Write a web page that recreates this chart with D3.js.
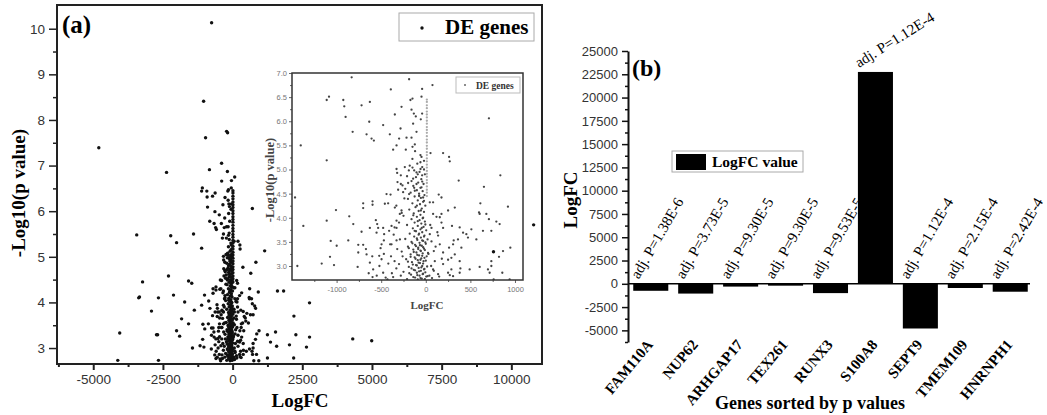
<!DOCTYPE html>
<html>
<head>
<meta charset="utf-8">
<script src="https://cdn.jsdelivr.net/npm/d3@7"></script>
<style>
  body { margin: 0; background: #fff; }
  svg text { font-family: "Liberation Serif", "Times New Roman", serif; }
  .tick text { font-family: "Liberation Sans", Arial, sans-serif; }
</style>
</head>
<body>
<svg id="chart" width="1047" height="415"></svg>
<script>
// ---- panel (a) data: [LogFC, -Log10(p value)] ----
const farLeftGenes = [
  [-753,10.13],[-1040,8.41],[-970,7.61],[-215,7.75],[-180,7.72],[-4800,7.39],[-395,7.05],[-2370,6.85],
  [-3440,5.48],[-2220,5.46],[-2010,5.31],[-3230,4.45],[-2300,4.58],[-1580,4.47],[-3340,4.12],[-3370,4.10],
  [-2660,4.10],[-2120,4.16],[-1720,4.01],[-2910,3.81],[-1830,3.64],[-1580,3.53],[-2010,3.38],[-1900,3.26],
  [-2730,3.29],[-2690,3.29],[-4050,3.33],[-4120,2.73],[-2660,2.73]
];
const farRightGenes = [
  [1150,5.13],[1250,3.29],[1540,3.35],[1360,3.13],[1580,3.04],[2040,3.07],[2190,2.78],[1250,2.78],
  [1610,4.25],[1830,4.25],[2200,3.70],[2270,3.29],[2760,3.99],[2760,3.24],[2650,3.02],[4310,3.20],
  [4990,3.16],[9360,5.11],[10800,5.70]
];
const spreadGenes = [
  [-831,6.91],[-187,6.87],[-41,6.67],[75,6.75],[-392,6.66],[-1111,6.44],[-1085,6.51],[-925,6.44],
  [-914,6.31],[-899,6.09],[-720,6.33],[-627,6.40],[-172,6.44],[-149,6.47],[-48,6.51],[-272,6.30],
  [-160,6.24],[-134,6.16],[-112,6.10],[-56,6.04],[-41,6.16],[-347,6.14],[-142,5.95],[-283,5.85],
  [-104,5.78],[-478,5.92],[-634,5.99],[-820,5.78],[-664,5.73],[-608,5.64],[-582,5.60],[-403,5.73],
  [-299,5.64],[-216,5.66],[-160,5.66],[-123,5.52],[-149,5.47],[-328,5.50],[-366,5.41],[-224,5.41],
  [-48,5.26],[53,5.34],[194,5.34],[261,5.26],[269,5.17],[-1402,5.50],[-1111,5.19],[708,6.06],
  [-328,5.01],[-321,4.93],[-280,4.88],[-235,5.05],[-190,4.98],[-149,5.04],[-104,4.94],[-59,5.01],
  [-41,4.88],[-142,4.81],[-198,4.72],[-261,4.67],[-104,4.70],[-48,4.63],[-317,4.74],[369,4.77],
  [836,4.88],[652,4.64],[-440,4.49],[-395,4.48],[-310,4.58],[-254,4.53],[-187,4.49],[-123,4.56],
  [-75,4.46],[-30,4.42],[145,4.48],[176,4.42],[45,4.32],[82,4.32],[-702,4.30],[-702,4.20],
  [-597,4.34],[-597,4.27],[-459,4.29],[-422,4.30],[-1007,4.16],[-1111,3.94],[-858,4.03],[-813,3.87],
  [604,4.08],[708,3.97],[791,3.92],[828,3.87],[921,4.23],[325,4.21],[250,4.15],[176,4.08],
  [82,4.08],[157,4.01],[-347,4.21],[-291,4.08],[-1466,4.42],[-1373,3.83],
  [-560,3.95],[-545,3.87],[-534,3.79],[-478,3.79],[-411,3.73],[-328,3.79],[-720,3.71],[-627,3.79],
  [-1066,3.52],[-999,3.42],[-869,3.53],[-757,3.44],[-702,3.44],[-671,3.35],[-664,3.24],[-757,3.28],
  [-1074,3.19],[-1029,3.02],[-1167,3.05],[-1440,3.00],[-764,2.98],[-590,2.93],[-496,3.14],[-507,3.37],
  [-384,3.45],[-470,3.53],[-328,3.53],[-597,2.77],[-478,2.86],[-366,2.77],[120,4.02],[176,3.90],
  [194,3.79],[294,3.83],[380,3.80],[418,3.69],[313,3.53],[361,3.55],[473,3.59],[567,3.55],
  [641,3.73],[612,4.30],[597,4.11],[735,3.73],[821,3.19],[866,3.31],[948,3.38],[735,3.00],
  [604,2.98],[697,2.93],[940,2.72],[761,2.72],[492,2.93],[388,2.95],[380,3.10],[287,3.17],
  [261,3.38],[194,3.28],[194,3.04],[250,2.86],[269,2.81],[306,2.79],[138,2.83],[82,2.93],
  [101,3.10],[90,3.31],[64,3.51],[45,3.66],[64,3.79],[138,3.63],[157,3.45],
  [-627,3.07],[-522,3.21],[-496,3.45],[-467,3.66],[-552,3.69],[-384,3.83],[-328,3.94],[-272,4.15],
  [455,3.66],[306,3.45],[399,3.38],[325,3.24],[250,3.13],[287,2.93],[380,2.86],[735,3.10],
  [716,2.86],[858,2.86],[679,4.08],[511,3.76]
];
const coreGenes = [
  [-120,5.38],[-60,5.30],[-150,5.22],[-20,5.18],[-95,5.12],[-180,5.08],[-40,5.05],[-130,4.98],
  [-70,4.95],[-10,4.90],[-210,4.86],[-110,4.84],[-50,4.80],[-160,4.76],[-85,4.73],[-25,4.70],
  [-140,4.66],[-60,4.62],[-230,4.60],[-100,4.57],[-35,4.55],[-170,4.52],[-75,4.50],[-15,4.47],
  [-125,4.44],[-55,4.41],[-200,4.39],[-90,4.36],[-30,4.33],[-150,4.30],[-65,4.28],[-5,4.25],
  [-115,4.22],[-45,4.19],[-185,4.17],[-80,4.14],[-20,4.12],[-135,4.09],[-60,4.06],[-250,4.04],
  [-100,4.02],[-35,3.99],[-160,3.97],[-70,3.95],[-10,3.92],[-125,3.90],[-50,3.88],[-210,3.85],
  [-90,3.83],[-25,3.81],[-145,3.78],[-60,3.76],[5,3.74],[-110,3.72],[-40,3.70],[-180,3.67],
  [-80,3.65],[-15,3.63],[-130,3.61],[-55,3.59],[-230,3.56],[-95,3.54],[-30,3.52],[-160,3.50],
  [-70,3.48],[0,3.46],[-120,3.44],[-45,3.42],[-200,3.40],[-85,3.38],[-20,3.36],[-140,3.34],
  [-60,3.32],[-270,3.30],[-105,3.28],[-35,3.26],[-170,3.24],[-75,3.22],[10,3.20],[-125,3.18],
  [-50,3.16],[-220,3.14],[-90,3.12],[-25,3.10],[-155,3.08],[-65,3.06],[-300,3.04],[-110,3.02],
  [-40,3.00],[-190,2.98],[-80,2.96],[-15,2.94],[-135,2.92],[-55,2.90],[-250,2.88],[-100,2.86],
  [-30,2.84],[-165,2.82],[-70,2.80],[5,2.78],[-120,2.76],[-45,2.74],[-210,2.73],[-90,2.72],
  [-330,2.95],[-280,2.80],[-350,3.10],[-260,3.20],[-380,2.85],[-420,3.05],[-320,3.35],[-290,3.55],
  [-360,3.65],[40,2.80],[60,3.00],[30,3.25],[70,2.75],[20,3.55],[50,3.85],[-300,3.90],
  [-270,4.10],[-240,4.40],[-280,4.70],[90,2.90],[110,3.40],[-450,2.76],[-520,3.00],[-470,3.25],
  [-550,2.80],[-400,3.45],[150,2.78],[180,3.15],[130,3.70],[-330,4.25],[-350,3.80],[-390,3.20],
  [-600,3.20],[-640,2.85],[-430,2.72],
  [-10,2.73],[-60,2.75],[-140,2.77],[20,2.79],[-95,2.81],[-35,2.83],[-185,2.85],[-5,2.87],
  [-75,2.89],[-120,2.91],[-20,2.93],[-160,2.95],[-50,2.97],[15,2.99],[-100,3.01],[-145,3.03],
  [-30,3.05],[-80,3.07],[-200,3.09],[0,3.11],[-60,3.13],[-115,3.15],[-15,3.17],[-170,3.19],
  [-40,3.21],[-95,3.23],[25,3.27],[-135,3.29],[-55,3.31],[-10,3.33],[-85,3.35],[-190,3.37],
  [-30,3.39],[-110,3.41],[-65,3.43],[-150,3.47],[-5,3.49],[-40,3.53],[-100,3.57],[-20,3.61],
  [-75,3.67],[-125,3.73],[-45,3.79],[-5,3.86],[-90,3.93],[-30,4.00],[-140,4.05],[-55,4.15],
  [-100,4.25],[-20,4.35],[-75,4.45],[-130,4.62],[-40,4.75],[-90,4.90],[-20,5.00],[-60,5.15]
];
// the dotted column of genes sitting right at LogFC ~ 0
const zeroColumnGenes = [
  [12,6.45],[12,6.40],[12,6.33],[12,6.27],[12,6.20],[12,6.14],[12,6.08],[12,6.01],[12,5.95],[12,5.88],
  [12,5.82],[12,5.76],[12,5.69],[12,5.62],[12,5.56],[12,5.49],[12,5.43],[12,5.36],[12,5.30],[12,5.23],
  [12,5.17],[12,5.10],[12,5.04],[12,4.97],[12,4.91],[12,4.85],[12,4.78],[12,4.72],[12,4.65],[12,4.58],
  [12,4.52],[12,4.45]
];

const volcanoXTicks = [-5000, -2500, 0, 2500, 5000, 7500, 10000];
const volcanoXMinor = [-6250, -3750, -1250, 1250, 3750, 6250, 8750];
const volcanoYTicks = [3, 4, 5, 6, 7, 8, 9, 10];
const volcanoYMinor = [3.5, 4.5, 5.5, 6.5, 7.5, 8.5, 9.5];
const insetXTicks = [-1000, -500, 0, 500, 1000];
const insetXMinor = [-1250, -750, -250, 250, 750];
const insetYTicks = [3.0, 3.5, 4.0, 4.5, 5.0, 5.5, 6.0, 6.5, 7.0];
const insetYMinor = [3.25, 3.75, 4.25, 4.75, 5.25, 5.75, 6.25, 6.75];

// ---- panel (b) data ----
const topGenes = ["FAM110A", "NUP62", "ARHGAP17", "TEX261", "RUNX3", "S100A8", "SEPT9", "TMEM109", "HNRNPH1"];
const topLogFC = [-750, -1050, -300, -200, -1000, 22750, -4800, -450, -850];
const topAdjP = ["1.38E-6", "3.73E-5", "9.30E-5", "9.30E-5", "9.53E-5", "1.12E-4", "1.12E-4", "2.15E-4", "2.42E-4"];
const barYTicks = [-5000, -2500, 0, 2500, 5000, 7500, 10000, 12500, 15000, 17500, 20000, 22500, 25000];
const barYMinor = [-6250, -3750, -1250, 1250, 3750, 6250, 8750, 11250, 13750, 16250, 18750, 21250, 23750];

const svg = d3.select("#chart");
const allGenes = farLeftGenes.concat(spreadGenes, coreGenes, zeroColumnGenes, farRightGenes);

// ================= panel (a): volcano plot =================
const xA = d3.scaleLinear().domain([-6300, 11100]).range([57, 542]);
const yA = d3.scaleLinear().domain([2.65, 10.52]).range([364, 5]);
const gA = svg.append("g");

gA.append("rect").attr("x", 57).attr("y", 5).attr("width", 485).attr("height", 359).attr("fill", "#fff");

function styleAxis(g, col, w) {
  g.select(".domain").remove();
  g.selectAll(".tick line").attr("stroke", col).attr("stroke-width", w);
}

gA.append("g").attr("transform", "translate(0,364)")
  .call(d3.axisBottom(xA).tickValues(volcanoXTicks).tickSize(6).tickPadding(4).tickFormat(d => String(d)))
  .call(g => styleAxis(g, "#222", 2))
  .call(g => g.selectAll("text").attr("font-size", 13.5).attr("fill", "#333"));
gA.append("g").attr("transform", "translate(0,364)")
  .call(d3.axisBottom(xA).tickValues(volcanoXMinor).tickSize(3).tickFormat(""))
  .call(g => styleAxis(g, "#222", 2));
gA.append("g").attr("transform", "translate(57,0)")
  .call(d3.axisLeft(yA).tickValues(volcanoYTicks).tickSize(8).tickPadding(4).tickFormat(d => String(d)))
  .call(g => styleAxis(g, "#222", 1.5))
  .call(g => g.selectAll("text").attr("font-size", 13.5).attr("fill", "#333"));
gA.append("g").attr("transform", "translate(57,0)")
  .call(d3.axisLeft(yA).tickValues(volcanoYMinor).tickSize(4).tickFormat(""))
  .call(g => styleAxis(g, "#222", 1.5));

// inset: zoom of the same genes
const xI = d3.scaleLinear().domain([-1500, 1090]).range([292, 523]);
const yI = d3.scaleLinear().domain([2.71, 7.0]).range([280, 73]);
const gI = gA.append("g");
gI.append("rect").attr("x", 292).attr("y", 73).attr("width", 231).attr("height", 207).attr("fill", "#fff");
svg.append("clipPath").attr("id", "insetClip")
  .append("rect").attr("x", 292).attr("y", 73).attr("width", 231).attr("height", 207);

const insetPts = allGenes.filter(d => d[0] >= -1500 && d[0] <= 1090 && d[1] <= 7.0);
gI.append("g").attr("clip-path", "url(#insetClip)")
  .selectAll("circle").data(insetPts).enter().append("circle")
  .attr("cx", d => xI(d[0])).attr("cy", d => yI(d[1])).attr("r", 1.15)
  .attr("fill", d => zeroColumnGenes.includes(d) ? "#aaa" : "#444");

gI.append("g").attr("transform", "translate(0,280)")
  .call(d3.axisBottom(xI).tickValues(insetXTicks).tickSize(3).tickPadding(4).tickFormat(d => String(d)))
  .call(g => styleAxis(g, "#666", 1))
  .call(g => g.selectAll("text").attr("font-size", 7.5).attr("fill", "#777"));
gI.append("g").attr("transform", "translate(0,280)")
  .call(d3.axisBottom(xI).tickValues(insetXMinor).tickSize(2).tickFormat(""))
  .call(g => styleAxis(g, "#666", 1));
gI.append("g").attr("transform", "translate(292,0)")
  .call(d3.axisLeft(yI).tickValues(insetYTicks).tickSize(3).tickPadding(2).tickFormat(d3.format(".1f")))
  .call(g => styleAxis(g, "#666", 1))
  .call(g => g.selectAll("text").attr("font-size", 7.5).attr("fill", "#777"));
gI.append("g").attr("transform", "translate(292,0)")
  .call(d3.axisLeft(yI).tickValues(insetYMinor).tickSize(2).tickFormat(""))
  .call(g => styleAxis(g, "#666", 1));
gI.append("rect").attr("x", 292).attr("y", 73).attr("width", 231).attr("height", 207)
  .attr("fill", "none").attr("stroke", "#333").attr("stroke-width", 1.5);

gI.append("text").attr("x", 427).attr("y", 309).attr("text-anchor", "middle")
  .attr("font-size", 11).attr("font-weight", "bold").attr("fill", "#444").text("LogFC");
gI.append("text").attr("transform", "translate(274,180) rotate(-90)").attr("text-anchor", "middle")
  .attr("font-size", 12.5).attr("font-weight", "bold").attr("fill", "#444").text("-Log10(p value)");

gI.append("rect").attr("x", 456).attr("y", 77).attr("width", 64).attr("height", 16)
  .attr("fill", "#fff").attr("stroke", "#bbb").attr("stroke-width", 1);
gI.append("circle").attr("cx", 465).attr("cy", 85).attr("r", 1).attr("fill", "#666");
gI.append("text").attr("x", 476).attr("y", 89).attr("font-size", 9.5).attr("font-weight", "bold")
  .attr("fill", "#333").text("DE genes");

// main points (only those outside the inset box stay visible around it)
const mainPts = allGenes.filter(d => {
  const px = xA(d[0]), py = yA(d[1]);
  return !(px > 290 && px < 525 && py > 71 && py < 282) || d[0] > 5000;
});
gA.append("g").selectAll("circle").data(mainPts).enter().append("circle")
  .attr("cx", d => xA(d[0])).attr("cy", d => yA(d[1])).attr("r", 1.7).attr("fill", "#111");

gA.append("rect").attr("x", 57).attr("y", 5).attr("width", 485).attr("height", 359)
  .attr("fill", "none").attr("stroke", "#222").attr("stroke-width", 2);

gA.append("text").attr("x", 62).attr("y", 33).attr("font-size", 25).attr("font-weight", "bold").text("(a)");

gA.append("rect").attr("x", 399).attr("y", 13).attr("width", 135).attr("height", 28)
  .attr("fill", "#fff").attr("stroke", "#aaa").attr("stroke-width", 1);
gA.append("circle").attr("cx", 422).attr("cy", 28).attr("r", 1.7).attr("fill", "#111");
gA.append("text").attr("x", 445).attr("y", 34).attr("font-size", 21).attr("font-weight", "bold").text("DE genes");

gA.append("text").attr("x", 300).attr("y", 407).attr("text-anchor", "middle")
  .attr("font-size", 19).attr("font-weight", "bold").text("LogFC");
gA.append("text").attr("transform", "translate(25,193) rotate(-90)").attr("text-anchor", "middle")
  .attr("font-size", 19).attr("font-weight", "bold").text("-Log10(p value)");

// ================= panel (b): bar chart =================
const xB = d3.scaleBand().domain(topGenes).range([631, 1030]).paddingInner(0.22).paddingOuter(0.05);
const yB = d3.scaleLinear().domain([-6250, 25000]).range([342, 51]);
const gB = svg.append("g");

gB.selectAll(".bar").data(topGenes).enter().append("rect").attr("class", "bar")
  .attr("x", d => xB(d)).attr("width", xB.bandwidth())
  .attr("y", (d, i) => yB(Math.max(0, topLogFC[i])))
  .attr("height", (d, i) => Math.abs(yB(topLogFC[i]) - yB(0)))
  .attr("fill", "#000");

gB.append("line").attr("x1", 628).attr("x2", 1030).attr("y1", yB(0)).attr("y2", yB(0))
  .attr("stroke", "#000").attr("stroke-width", 1.5);

gB.append("g").attr("transform", "translate(628,0)")
  .call(d3.axisLeft(yB).tickValues(barYTicks).tickSize(6).tickSizeOuter(0).tickPadding(4).tickFormat(d => String(d)))
  .call(g => g.select(".domain").attr("stroke", "#111").attr("stroke-width", 2))
  .call(g => g.selectAll(".tick line").attr("stroke", "#111").attr("stroke-width", 1.5))
  .call(g => g.selectAll("text").attr("font-size", 13).attr("fill", "#333"));
gB.append("g").attr("transform", "translate(628,0)")
  .call(d3.axisLeft(yB).tickValues(barYMinor).tickSize(3).tickFormat(""))
  .call(g => styleAxis(g, "#111", 1.5));

// adj. P annotations
gB.selectAll(".pval").data(topGenes).enter().append("text").attr("class", "pval")
  .attr("transform", (d, i) => topLogFC[i] > 0
    ? "translate(" + (xB(d) + 1) + "," + (yB(topLogFC[i]) - 4) + ") rotate(-32)"
    : "translate(" + (xB(d) + xB.bandwidth() / 2 - 12) + "," + (yB(0) - 4) + ") rotate(-60)")
  .attr("font-size", 15).text((d, i) => "adj. P=" + topAdjP[i]);

// gene names
gB.selectAll(".gname").data(topGenes).enter().append("text").attr("class", "gname")
  .attr("transform", d => "translate(" + (xB(d) + xB.bandwidth() / 2 + 3) + ",345) rotate(-50)")
  .attr("text-anchor", "end").attr("font-size", 15).attr("font-weight", "bold").text(d => d);

gB.append("text").attr("x", 632).attr("y", 76).attr("font-size", 24).attr("font-weight", "bold").text("(b)");

gB.append("rect").attr("x", 672).attr("y", 151).attr("width", 131).attr("height", 21)
  .attr("fill", "#fff").attr("stroke", "#aaa").attr("stroke-width", 1);
gB.append("rect").attr("x", 676).attr("y", 154).attr("width", 30).attr("height", 16).attr("fill", "#000");
gB.append("text").attr("x", 712).attr("y", 167).attr("font-size", 15.5).attr("font-weight", "bold").text("LogFC value");

gB.append("text").attr("x", 810).attr("y", 409).attr("text-anchor", "middle")
  .attr("font-size", 18).attr("font-weight", "bold").text("Genes sorted by p values");
gB.append("text").attr("transform", "translate(577,200) rotate(-90)").attr("text-anchor", "middle")
  .attr("font-size", 19).attr("font-weight", "bold").text("LogFC");
</script>
</body>
</html>
